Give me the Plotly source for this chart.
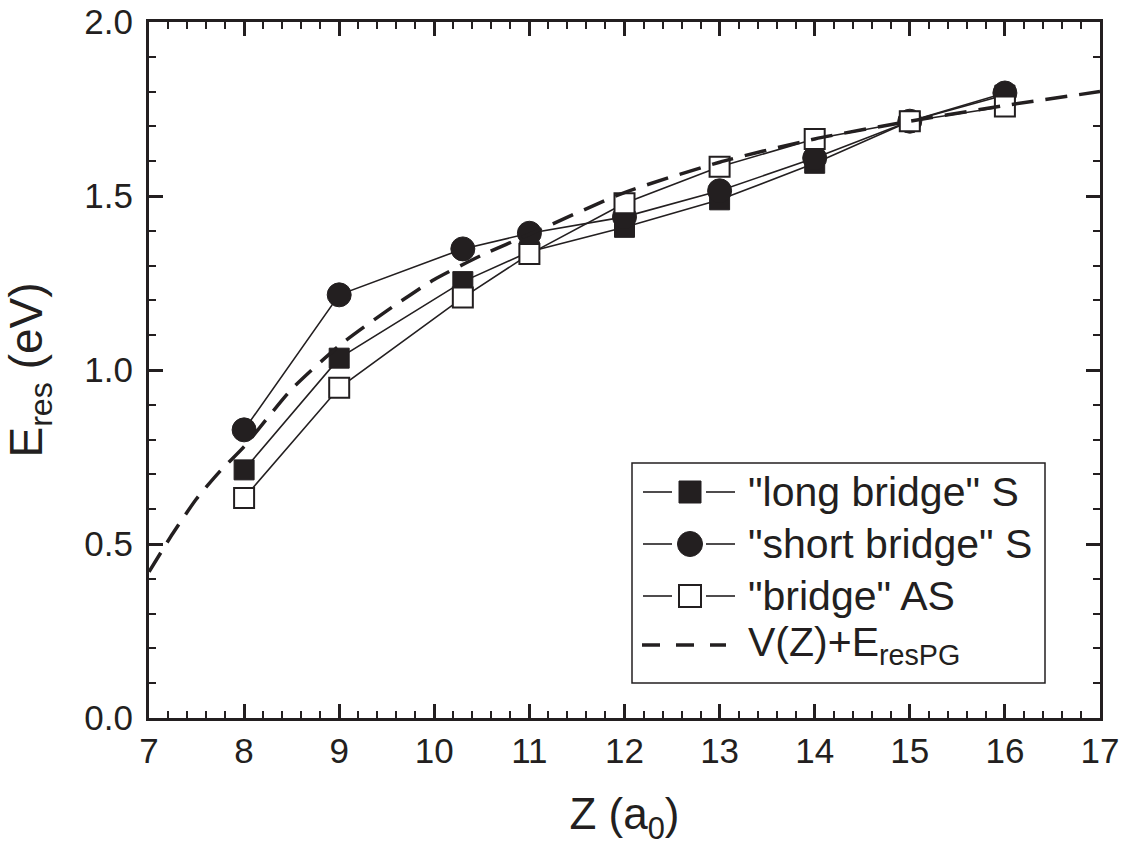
import plotly.graph_objects as go

# ---- data ----
Z = [8, 9, 10.3, 11, 12, 13, 14, 15, 16]
long_bridge_S = [0.713, 1.034, 1.254, 1.34, 1.41, 1.489, 1.594, 1.715, 1.79]
short_bridge_S = [0.828, 1.216, 1.348, 1.393, 1.44, 1.515, 1.609, 1.715, 1.796]
bridge_AS = [0.632, 0.949, 1.208, 1.333, 1.479, 1.584, 1.664, 1.715, 1.757]

Z_curve = [7.0, 7.25, 7.5, 7.75, 8.0, 8.5, 9.0, 9.5, 10.0, 10.5, 11.0, 12.0, 13.0, 14.0, 15.0, 16.0, 17.0]
E_curve = [0.42, 0.53, 0.63, 0.71, 0.78, 0.945, 1.07, 1.17, 1.26, 1.33, 1.39, 1.51, 1.597, 1.664, 1.715, 1.76, 1.80]

legend_labels = ['"long bridge" S', '"short bridge" S', '"bridge" AS', "V(Z)+E<sub>resPG</sub>"]

INK = "#231f20"
FONT = "Liberation Sans, Arial, Helvetica, sans-serif"

# plot-area geometry (screen px) used to place the hand-drawn legend
PL, PR, PT, PB = 149, 1100, 22, 718


def px_x(p):
    return (p - PL) / (PR - PL)


def px_y(p):
    return (PB - p) / (PB - PT)


fig = go.Figure()
fig.add_trace(go.Scatter(
    x=Z, y=long_bridge_S, mode="lines+markers", name=legend_labels[0], showlegend=False,
    line=dict(color=INK, width=1.6),
    marker=dict(symbol="square", size=20, color=INK, line=dict(color=INK, width=1))))
fig.add_trace(go.Scatter(
    x=Z, y=short_bridge_S, mode="lines+markers", name=legend_labels[1], showlegend=False,
    line=dict(color=INK, width=1.6),
    marker=dict(symbol="circle", size=24, color=INK, line=dict(color=INK, width=1))))
fig.add_trace(go.Scatter(
    x=Z, y=bridge_AS, mode="lines+markers", name=legend_labels[2], showlegend=False,
    line=dict(color=INK, width=1.6),
    marker=dict(symbol="square", size=20, color="white", line=dict(color=INK, width=2))))
fig.add_trace(go.Scatter(
    x=Z_curve, y=E_curve, mode="lines", name=legend_labels[3], showlegend=False,
    line=dict(color=INK, width=3.5, dash="22px,12px", shape="spline", smoothing=0.6)))

axis_common = dict(
    showline=True, linecolor=INK, linewidth=3, mirror="allticks",
    ticks="inside", ticklen=14, tickwidth=2.5, tickcolor=INK,
    showgrid=False, zeroline=False, automargin=False,
    ticklabeloverflow="allow",
    tickfont=dict(family=FONT, size=35, color=INK),
)

fig.update_xaxes(
    range=[7, 17], dtick=1, tick0=7,
    minor=dict(dtick=0.2, ticks="inside", ticklen=7, tickwidth=2, tickcolor=INK),
    title=dict(text="Z (a<sub>0</sub>)", font=dict(family=FONT, size=44, color=INK), standoff=30),
    **axis_common)
fig.update_yaxes(
    range=[0, 2.0], dtick=0.5, tick0=0, tickformat=".1f", ticklabelstandoff=6,
    minor=dict(dtick=0.1, ticks="inside", ticklen=7, tickwidth=2, tickcolor=INK),
    title=dict(text="E<sub>res</sub> (eV)", font=dict(family=FONT, size=46, color=INK), standoff=33),
    **axis_common)

# ---- hand-drawn legend (box, line samples, marker samples, labels) ----
shapes = []
annotations = []
shapes.append(dict(type="rect", xref="paper", yref="paper",
                   x0=px_x(632), x1=px_x(1045), y0=px_y(683), y1=px_y(463),
                   line=dict(color=INK, width=1.5), fillcolor="white", layer="above"))
row_y = [492, 544, 596, 645]
for i, ry in enumerate(row_y[:3]):
    for a, b in [(643, 672), (706, 735)]:
        shapes.append(dict(type="line", xref="paper", yref="paper",
                           x0=px_x(a), x1=px_x(b), y0=px_y(ry), y1=px_y(ry),
                           line=dict(color=INK, width=1.6), layer="above"))
# filled square
shapes.append(dict(type="rect", xref="paper", yref="paper",
                   x0=px_x(679), x1=px_x(701), y0=px_y(row_y[0] + 11), y1=px_y(row_y[0] - 11),
                   line=dict(color=INK, width=1), fillcolor=INK, layer="above"))
# filled circle
shapes.append(dict(type="circle", xref="paper", yref="paper",
                   x0=px_x(677.5), x1=px_x(702.5), y0=px_y(row_y[1] + 12.5), y1=px_y(row_y[1] - 12.5),
                   line=dict(color=INK, width=1), fillcolor=INK, layer="above"))
# open square
shapes.append(dict(type="rect", xref="paper", yref="paper",
                   x0=px_x(679), x1=px_x(701), y0=px_y(row_y[2] + 11), y1=px_y(row_y[2] - 11),
                   line=dict(color=INK, width=2), fillcolor="white", layer="above"))
# dashed sample
shapes.append(dict(type="line", xref="paper", yref="paper",
                   x0=px_x(642), x1=px_x(726), y0=px_y(row_y[3]), y1=px_y(row_y[3]),
                   line=dict(color=INK, width=3.5, dash="18px,16px"), layer="above"))

for ry, lab in zip(row_y, legend_labels):
    annotations.append(dict(xref="paper", yref="paper", x=px_x(746), y=px_y(ry),
                            xanchor="left", yanchor="middle", text=lab, showarrow=False,
                            font=dict(family=FONT, size=41, color=INK)))

fig.update_layout(
    width=1127, height=855,
    margin=dict(l=PL, r=1127 - PR, t=PT, b=855 - PB),
    paper_bgcolor="white", plot_bgcolor="white",
    font=dict(family=FONT, color=INK),
    showlegend=False,
    shapes=shapes, annotations=annotations,
)

fig.write_html("out.html", config={"displayModeBar": False},
               post_script="document.body.style.margin='0';document.body.style.overflow='hidden';")
